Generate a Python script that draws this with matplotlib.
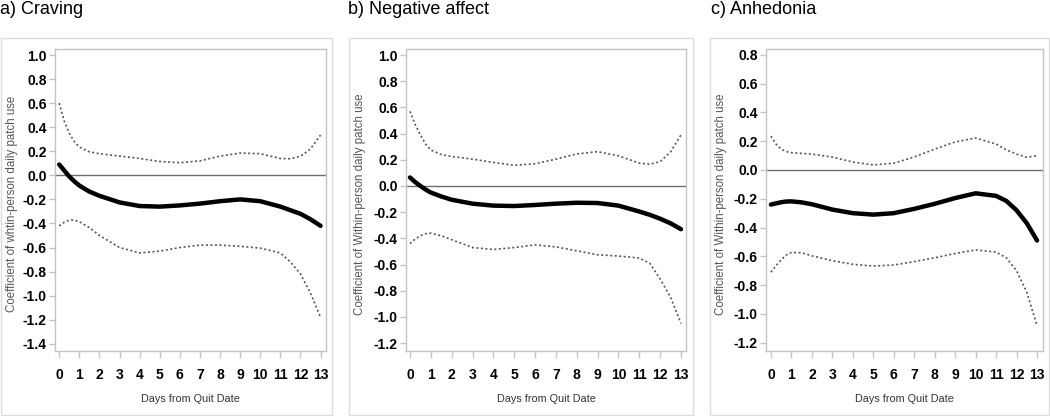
import matplotlib
matplotlib.use("Agg")
import matplotlib.pyplot as plt
from matplotlib.patches import Rectangle
from matplotlib import font_manager

# ---------------- data ----------------
days = [0, 0.25, 0.5, 0.75, 1, 1.5, 2, 3, 4, 5, 6, 7, 8, 9, 10, 11, 11.5, 12, 12.5, 13]
day_ticks = list(range(0, 14))

craving_est = [0.09, 0.04, -0.01, -0.05, -0.085, -0.135, -0.17, -0.225, -0.255, -0.26, -0.25, -0.235, -0.215, -0.20, -0.215, -0.26, -0.29, -0.32, -0.365, -0.42]
craving_hi = [0.60, 0.45, 0.35, 0.28, 0.235, 0.195, 0.18, 0.16, 0.14, 0.115, 0.105, 0.12, 0.16, 0.185, 0.18, 0.14, 0.138, 0.158, 0.22, 0.335]
craving_lo = [-0.42, -0.39, -0.372, -0.372, -0.385, -0.435, -0.50, -0.60, -0.645, -0.63, -0.60, -0.58, -0.58, -0.59, -0.605, -0.645, -0.72, -0.82, -0.98, -1.18]

negaff_est = [0.065, 0.03, 0.0, -0.027, -0.05, -0.08, -0.105, -0.135, -0.15, -0.153, -0.145, -0.135, -0.128, -0.13, -0.15, -0.195, -0.22, -0.25, -0.285, -0.33]
negaff_hi = [0.57, 0.47, 0.39, 0.32, 0.275, 0.24, 0.225, 0.205, 0.18, 0.158, 0.17, 0.205, 0.245, 0.262, 0.23, 0.175, 0.166, 0.186, 0.26, 0.39]
negaff_lo = [-0.44, -0.405, -0.38, -0.365, -0.36, -0.38, -0.41, -0.47, -0.485, -0.47, -0.45, -0.465, -0.495, -0.525, -0.535, -0.55, -0.59, -0.71, -0.85, -1.05]

anhed_est = [-0.24, -0.232, -0.224, -0.219, -0.218, -0.225, -0.238, -0.275, -0.30, -0.31, -0.30, -0.27, -0.235, -0.195, -0.162, -0.18, -0.215, -0.28, -0.37, -0.49]
anhed_hi = [0.235, 0.18, 0.145, 0.128, 0.12, 0.115, 0.11, 0.09, 0.055, 0.035, 0.047, 0.09, 0.145, 0.195, 0.222, 0.18, 0.14, 0.11, 0.088, 0.10]
anhed_lo = [-0.71, -0.665, -0.625, -0.59, -0.573, -0.575, -0.596, -0.63, -0.655, -0.667, -0.66, -0.636, -0.61, -0.58, -0.555, -0.57, -0.61, -0.70, -0.85, -1.08]

titles = ["a) Craving", "b) Negative affect", "c) Anhedonia"]
ylabels = ["Coefficient of whtin-person daily patch use",
           "Coefficient of Within-person daily patch use",
           "Coefficient of Within-person daily patch use"]
xlabel = "Days from Quit Date"
yticks_a = [1.0, 0.8, 0.6, 0.4, 0.2, 0.0, -0.2, -0.4, -0.6, -0.8, -1.0, -1.2, -1.4]
yticks_b = [1.0, 0.8, 0.6, 0.4, 0.2, 0.0, -0.2, -0.4, -0.6, -0.8, -1.0, -1.2]
yticks_c = [0.8, 0.6, 0.4, 0.2, 0.0, -0.2, -0.4, -0.6, -0.8, -1.0, -1.2]

# ---------------- fonts ----------------
avail = {f.name for f in font_manager.fontManager.ttflist}
narrow = "Liberation Sans Narrow" if "Liberation Sans Narrow" in avail else "Liberation Sans"
plt.rcParams['font.family'] = ['Liberation Sans', 'DejaVu Sans']

W, H = 1050, 416
fig = plt.figure(figsize=(W / 100, H / 100), dpi=100)

def fx(px):
    return px / W

def fy(py):
    return 1 - py / H

panels = [
    dict(est=craving_est, hi=craving_hi, lo=craving_lo, yt=yticks_a,
         ax=(55, 326), xlim=(-0.21, 13.27), ylim=(-1.46, 1.05),
         box=(1, 332), title_x=0, ylab_x=12),
    dict(est=negaff_est, hi=negaff_hi, lo=negaff_lo, yt=yticks_b,
         ax=(406, 686), xlim=(-0.19, 13.24), ylim=(-1.26, 1.046),
         box=(349, 693), title_x=348, ylab_x=360),
    dict(est=anhed_est, hi=anhed_hi, lo=anhed_lo, yt=yticks_c,
         ax=(766, 1043), xlim=(-0.24, 13.29), ylim=(-1.257, 0.84),
         box=(710, 1049), title_x=711, ylab_x=721),
]

ax_top, ax_bot = 49, 351
spine_col = "#c4c4c4"

for i, p in enumerate(panels):
    l, r = p['ax']
    bl, br = p['box']
    fig.patches.append(Rectangle((fx(bl), fy(415)), fx(br - bl), (415 - 38) / H,
                                 transform=fig.transFigure, fill=False,
                                 edgecolor="#dcdcdc", linewidth=1.0))
    ax = fig.add_axes([fx(l), fy(ax_bot), fx(r - l), (ax_bot - ax_top) / H])
    ax.set_xlim(*p['xlim'])
    ax.set_ylim(*p['ylim'])
    ax.axhline(0, color="#6e6e6e", linewidth=1.0, zorder=1)
    ax.plot(days, p['hi'], color="#555555", linewidth=1.2,
            linestyle=(0, (1.2, 1.5)), zorder=2)
    ax.plot(days, p['lo'], color="#555555", linewidth=1.2,
            linestyle=(0, (1.2, 1.5)), zorder=2)
    ax.plot(days, p['est'], color="black", linewidth=3.2,
            solid_capstyle='round', solid_joinstyle='round', zorder=3)
    ax.set_xticks(day_ticks)
    ax.set_xticklabels([str(d) for d in day_ticks])
    ax.set_yticks(p['yt'])
    ax.set_yticklabels([f"{v:.1f}" for v in p['yt']])
    for s in ax.spines.values():
        s.set_color(spine_col)
        s.set_linewidth(1.0)
    ax.tick_params(axis='x', direction='out', length=5, width=1, color=spine_col,
                   pad=7, labelsize=10, labelcolor="black")
    ax.tick_params(axis='y', direction='out', length=4, width=1, color=spine_col,
                   pad=2, labelsize=10, labelcolor="black")
    for lab in ax.get_xticklabels() + ax.get_yticklabels():
        lab.set_fontfamily(narrow)
        lab.set_fontweight('bold')
    fig.text(fx(p['title_x']), fy(10), titles[i], fontsize=13, ha='left',
             va='center', color="black")
    fig.text(fx(p['ylab_x']), fy((ax_top + ax_bot) / 2 + 4), ylabels[i],
             rotation=90, fontsize=8.3, ha='center', va='center',
             color="#555555")
    fig.text(fx((l + r) / 2), fy(399), xlabel, fontsize=7.8, ha='center',
             va='center', color="#333333", fontfamily=narrow)

fig.savefig("out.png", dpi=100)
